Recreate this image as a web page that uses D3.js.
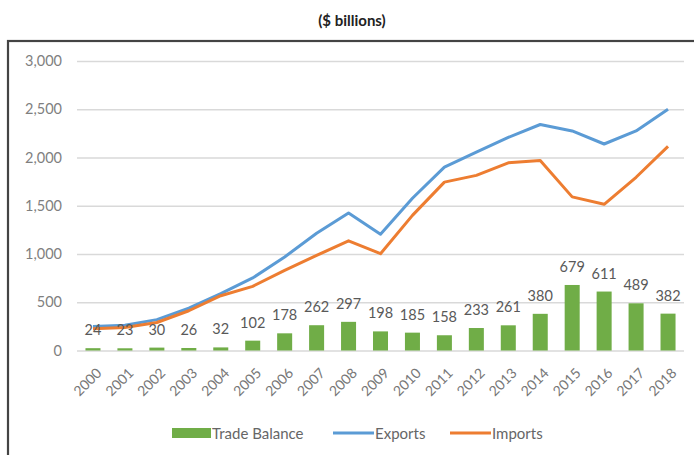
<!DOCTYPE html>
<html>
<head>
<meta charset="utf-8">
<script src="https://cdn.jsdelivr.net/npm/d3@7"></script>
<style>
  html, body { margin: 0; padding: 0; background: #fff; }
  svg { display: block; font-family: Lato, "Open Sans", sans-serif; }
</style>
</head>
<body>
<svg id="chart" width="694" height="455"></svg>
<script>
// Annual trade, $ billions
const years = ["2000","2001","2002","2003","2004","2005","2006","2007","2008","2009",
               "2010","2011","2012","2013","2014","2015","2016","2017","2018"];
const tradeBalance = [24, 23, 30, 26, 32, 102, 178, 262, 297, 198, 185, 158, 233, 261, 380, 679, 611, 489, 382];
const exportsVals = [249, 262, 320, 438, 590, 752, 969, 1215, 1425, 1205, 1578, 1900, 2055, 2208, 2342, 2275, 2140, 2275, 2500];
const importsVals = [225, 239, 290, 412, 568, 665, 830, 985, 1136, 1003, 1400, 1745, 1815, 1945, 1968, 1592, 1515, 1795, 2116];
const yTicks = [0, 500, 1000, 1500, 2000, 2500, 3000];

const svg = d3.select("#chart");

// outer frame
svg.append("rect")
  .attr("x", 8).attr("y", 41).attr("width", 720).attr("height", 480)
  .attr("fill", "none").attr("stroke", "#444").attr("stroke-width", 2.2);

// title
svg.append("text")
  .attr("x", 352).attr("y", 26)
  .attr("text-anchor", "middle")
  .attr("font-size", 15).attr("font-weight", "bold").attr("fill", "#222")
  .text("($ billions)");

const plotLeft = 77, plotRight = 684, plotTop = 61, plotBottom = 350.5;

const x = d3.scaleBand().domain(years).range([plotLeft, plotRight]).paddingInner(0.53).paddingOuter(0.265);
const y = d3.scaleLinear().domain([0, 3000]).range([plotBottom, plotTop]);

// gridlines + y labels
const yAxis = d3.axisLeft(y).tickValues(yTicks).tickSize(-(plotRight - plotLeft)).tickFormat(d3.format(","));
const gy = svg.append("g").attr("transform", `translate(${plotLeft},0)`).call(yAxis);
gy.select(".domain").remove();
gy.selectAll(".tick line").attr("stroke", "#d9d9d9").attr("stroke-width", 1.3);
gy.selectAll(".tick text").attr("x", -15).attr("fill", "#7f7f7f").attr("font-size", 14.5)
  .attr("font-family", "Lato, sans-serif");

// x labels, rotated
const xAxis = d3.axisBottom(x).tickSize(0);
const gx = svg.append("g").attr("transform", `translate(0,${plotBottom})`).call(xAxis);
gx.select(".domain").remove();
gx.selectAll(".tick text")
  .attr("fill", "#777").attr("font-size", 14).attr("font-family", "Lato, sans-serif")
  .attr("text-anchor", "end")
  .attr("dy", "0.35em")
  .attr("transform", "translate(6,20) rotate(-45)")
  .attr("x", 0).attr("y", 0);

// bars
svg.append("g").selectAll("rect").data(years).join("rect")
  .attr("x", d => x(d))
  .attr("width", x.bandwidth())
  .attr("y", (d, i) => y(tradeBalance[i]))
  .attr("height", (d, i) => plotBottom - y(tradeBalance[i]))
  .attr("fill", "#70ad47");

// lines
const line = d3.line().x(d => x(d.year) + x.bandwidth() / 2).y(d => y(d.v));
const mk = arr => years.map((yr, i) => ({ year: yr, v: arr[i] }));
svg.append("path").datum(mk(exportsVals)).attr("d", line)
  .attr("fill", "none").attr("stroke", "#5b9bd5").attr("stroke-width", 3).attr("stroke-linejoin", "round");
svg.append("path").datum(mk(importsVals)).attr("d", line)
  .attr("fill", "none").attr("stroke", "#ed7d31").attr("stroke-width", 3).attr("stroke-linejoin", "round");

// bar value labels
svg.append("g").selectAll("text").data(years).join("text")
  .attr("x", d => x(d) + x.bandwidth() / 2)
  .attr("y", (d, i) => y(tradeBalance[i]) - 13)
  .attr("text-anchor", "middle")
  .attr("font-size", 14.5).attr("fill", "#595959")
  .text((d, i) => tradeBalance[i]);

// legend
const lg = svg.append("g").attr("font-size", 15).attr("fill", "#666");
lg.append("rect").attr("x", 172).attr("y", 428).attr("width", 39).attr("height", 10).attr("fill", "#70ad47");
lg.append("text").attr("x", 212).attr("y", 438.5).attr("fill", "#666").text("Trade Balance");
lg.append("line").attr("x1", 333).attr("x2", 374).attr("y1", 433).attr("y2", 433)
  .attr("stroke", "#5b9bd5").attr("stroke-width", 3);
lg.append("text").attr("x", 375).attr("y", 438.5).attr("fill", "#666").text("Exports");
lg.append("line").attr("x1", 450).attr("x2", 491).attr("y1", 433).attr("y2", 433)
  .attr("stroke", "#ed7d31").attr("stroke-width", 3);
lg.append("text").attr("x", 492).attr("y", 438.5).attr("fill", "#666").text("Imports");
</script>
</body>
</html>
